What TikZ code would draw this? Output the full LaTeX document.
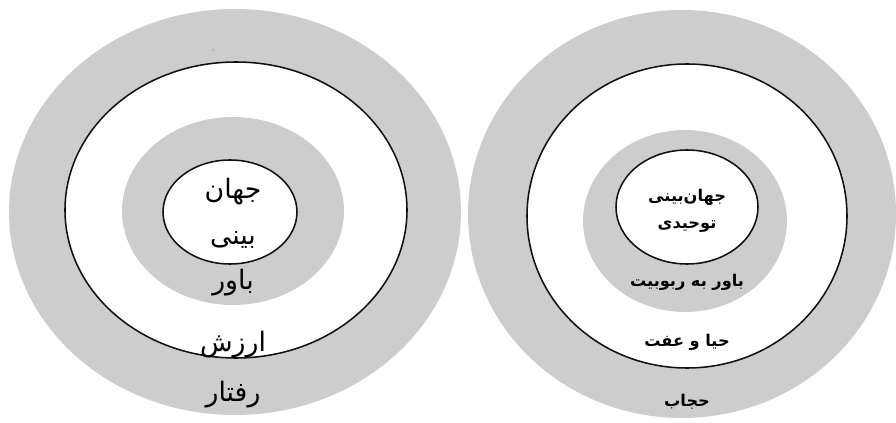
\documentclass[tikz,border=0pt]{standalone}
\usepackage{fontspec}
\usepackage{xcolor}
\usepackage{tikz}
\newfontfamily\arabicfont[Script=Arabic]{DejaVu Sans}
\TeXXeTstate=1
\definecolor{ringGray}{HTML}{CDCDCD}
\definecolor{ringLine}{HTML}{111111}

\begin{document}
\begin{tikzpicture}[
      x=0.025cm, y=0.025cm,
      band/.style={fill=ringGray},
      gap/.style={fill=white, draw=ringLine, line width=1.1pt},
      lbl/.style={font=\arabicfont\fontsize{19}{22}\selectfont, text=black, inner sep=0pt},
      lblb/.style={font=\arabicfont\bfseries\fontsize{11.5}{14}\selectfont, text=black, inner sep=0pt}
    ]
    \useasboundingbox (0,0) rectangle (896,422);

    % left rings
    \fill[band] (235,210) ellipse [x radius=226, y radius=203];
    \filldraw[gap] (236,212) ellipse [x radius=171, y radius=148];
    \fill[band] (233,211) ellipse [x radius=111, y radius=94];
    \filldraw[gap] (230,210) ellipse [x radius=67, y radius=52];
    \fill[black!60] (213,372) circle [radius=0.7];

    % right rings
    \fill[band] (682,208) ellipse [x radius=214, y radius=204];
    \filldraw[gap] (687,206) ellipse [x radius=160, y radius=152];
    \fill[band] (685,201) ellipse [x radius=102, y radius=91];
    \filldraw[gap] (687,215) ellipse [x radius=71, y radius=57];

    \node[lbl] (world) at (233,230) {\beginR جهان\endR};
    \node[lbl] (view) at (233,182) {\beginR بینی\endR};
    \node[lbl] (belief) at (233,139) {\beginR باور\endR};
    \node[lbl] (value) at (233,77) {\beginR ارزش\endR};
    \node[lbl] (conduct) at (233,27) {\beginR رفتار\endR};

    \node[lblb] (tworld) at (687,225) {\beginR جهان‌بینی\endR};
    \node[lblb] (tawhid) at (687,195) {\beginR توحیدی\endR};
    \node[lblb] (rububiya) at (687,140) {\beginR باور به ربوبیت\endR};
    \node[lblb] (modesty) at (687,80) {\beginR حیا و عفت\endR};
    \node[lblb] (hijab) at (687,20) {\beginR حجاب\endR};
  \end{tikzpicture}
\end{document}
